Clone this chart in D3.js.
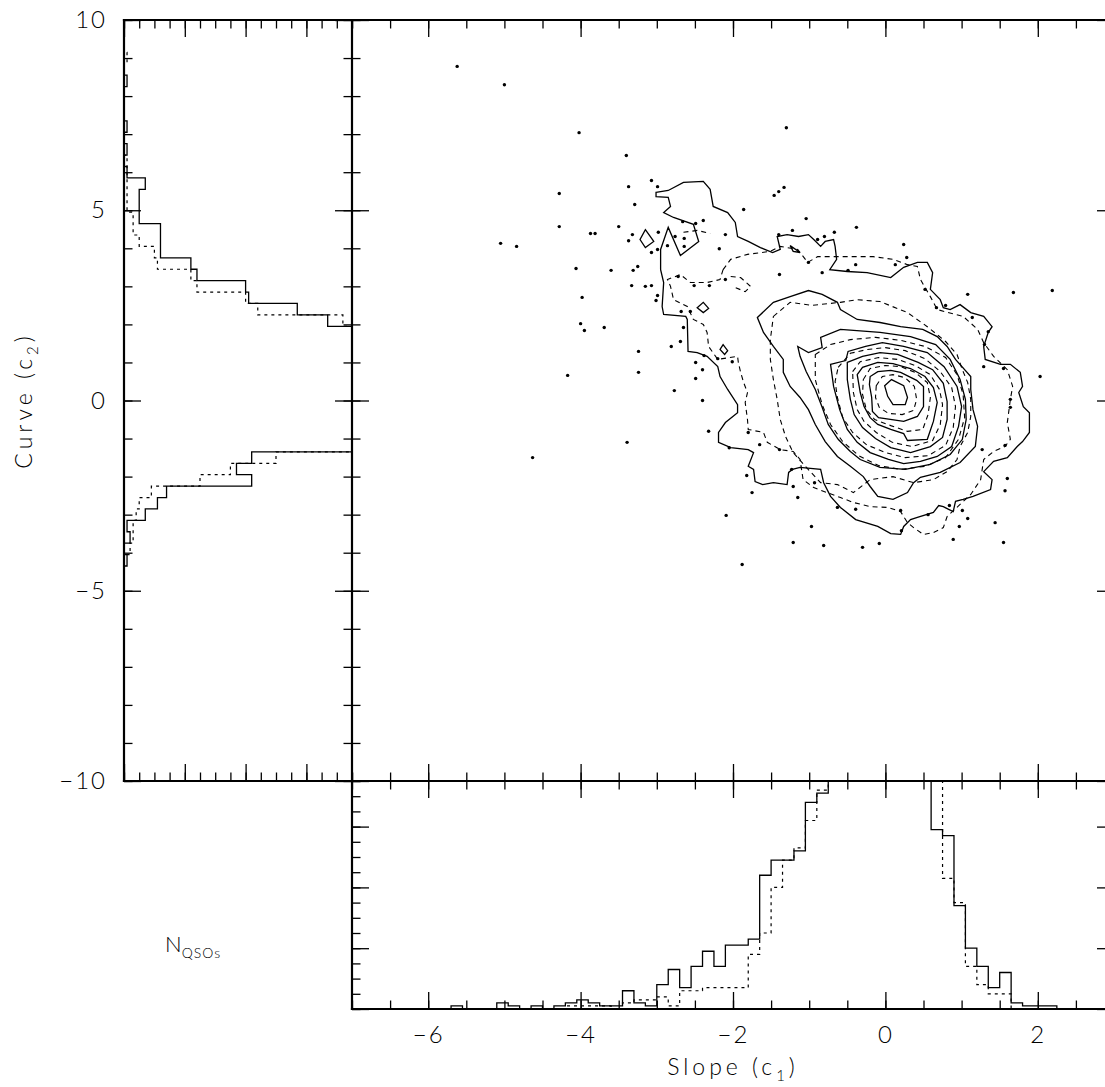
<!DOCTYPE html>

<head>
	<meta charset="utf-8" />
	<style>
		body {
			margin: 0;
			background-color: #fff;
		}

		svg {
			display: block;
		}

		text {
			font-family: Lato, 'DejaVu Sans', sans-serif;
			font-weight: 300;
			fill: #000;
		}
	</style>
</head>

<body>
	<div id="chart-area"></div>

	<script src="https://cdnjs.cloudflare.com/ajax/libs/d3/7.8.5/d3.min.js"></script>
	<script>
		// QSOs outside the lowest contour, [c1, c2]
		var qsoPoints = [
			[-5.62, 8.78], [-5.0, 8.3], [-4.02, 7.04], [-3.4, 6.44], [-1.3, 7.17], [-3.07, 5.78], [-2.99, 5.62],
			[-3.37, 5.62], [-3.29, 5.15], [-4.28, 5.44], [-4.28, 4.57], [-3.5, 4.57], [-3.87, 4.39], [-3.81, 4.39],
			[-5.05, 4.13], [-4.84, 4.05], [-3.32, 4.36], [-3.37, 4.2], [-2.98, 4.42], [-2.86, 4.07], [-2.99, 3.97],
			[-3.07, 3.89], [-2.76, 4.31], [-2.64, 4.26], [-2.64, 4.05], [-2.66, 4.7], [-2.49, 4.65], [-2.39, 4.73],
			[-4.06, 3.47], [-3.6, 3.42], [-3.31, 3.42], [-3.25, 3.52], [-3.33, 3.02], [-3.15, 3.0], [-3.07, 3.02],
			[-2.99, 2.76], [-3.01, 2.63], [-2.72, 3.26], [-2.51, 3.02], [-2.31, 3.02], [-3.98, 2.71], [-4.0, 2.02],
			[-3.95, 1.84], [-3.69, 1.92], [-2.68, 2.34], [-2.56, 2.34], [-2.65, 1.92], [-2.69, 1.55], [-2.81, 1.42],
			[-3.24, 1.29], [-3.24, 0.74], [-4.17, 0.66], [-2.38, 1.18], [-2.49, 1.0], [-2.4, 0.81], [-2.49, 0.58],
			[-2.2, 1.1], [-2.01, 1.02], [-2.77, 0.26], [-2.4, 0.0], [-2.32, -0.81], [-3.39, -1.1], [-4.63, -1.5],
			[-2.18, 3.99], [-1.86, 5.02], [-1.46, 5.39], [-1.4, 5.49], [-1.33, 5.6], [-1.04, 4.78], [-1.22, 4.47],
			[-1.4, 4.36], [-0.89, 4.23], [-0.8, 4.31], [-0.67, 4.42], [-2.1, 4.36], [-0.38, 4.55], [0.24, 4.1],
			[0.28, 3.76], [0.13, 3.57], [-0.39, 3.57], [-0.49, 3.42], [-0.83, 3.36], [-1.39, 3.31], [-1.01, 3.63],
			[0.52, 2.92], [1.08, 2.79], [1.68, 2.84], [2.19, 2.89], [0.79, 2.5], [0.67, 2.44], [1.14, 2.18],
			[1.35, 1.81], [1.3, 1.47], [1.29, 0.89], [1.55, 0.84], [2.03, 0.63], [1.64, 0.03], [1.64, -0.18],
			[1.27, -1.29], [1.57, -1.18], [1.6, -2.05], [1.57, -2.37], [1.44, -3.21], [1.55, -3.73], [0.89, -3.65],
			[0.97, -3.31], [1.08, -3.1], [1.01, -2.89], [0.84, -2.76], [0.56, -3.0], [0.2, -2.89], [0.21, -3.42],
			[-0.08, -3.76], [-0.3, -3.86], [-0.81, -3.81], [-0.39, -2.86], [-0.63, -2.81], [-1.8, -0.84],
			[-1.65, -1.16], [-1.39, -1.29], [-2.05, -1.24], [-1.82, -1.97], [-1.75, -2.42], [-2.09, -3.02],
			[-1.23, -1.81], [-1.21, -2.26], [-1.15, -2.55], [-0.93, -2.16], [-0.97, -3.31], [-1.21, -3.73],
			[-1.88, -4.31], [-2.1, 3.18]
		];

		// density contours of the first sample (solid), [c1, c2] vertices
		var solidContours = [
			[[-3.01, 5.47], [-2.85, 5.52], [-2.65, 5.73], [-2.39, 5.76], [-2.3, 5.55], [-2.26, 5.1], [-2.07, 4.94],
			[-1.97, 4.68], [-1.94, 4.31], [-1.8, 4.18], [-1.64, 4.02], [-1.48, 3.89], [-1.38, 3.97], [-1.42, 4.31],
			[-1.29, 4.36], [-1.14, 4.31], [-1.01, 4.36], [-0.94, 4.23], [-0.85, 4.05], [-0.79, 4.18], [-0.68, 4.23],
			[-0.66, 4.05], [-0.64, 3.71], [-0.73, 3.44], [-0.5, 3.39], [-0.24, 3.36], [0.07, 3.23], [0.24, 3.5],
			[0.42, 3.63], [0.55, 3.63], [0.62, 3.36], [0.59, 2.92], [0.72, 2.65], [0.76, 2.44], [0.85, 2.39],
			[0.98, 2.52], [1.12, 2.31], [1.29, 2.21], [1.4, 1.94], [1.35, 1.79], [1.29, 1.42], [1.31, 1.08],
			[1.51, 0.95], [1.64, 0.95], [1.77, 0.74], [1.8, 0.37], [1.75, 0.21], [1.81, -0.16], [1.89, -0.32],
			[1.89, -0.84], [1.8, -1.08], [1.73, -1.21], [1.6, -1.5], [1.42, -1.6], [1.29, -1.87], [1.4, -2.08],
			[1.38, -2.34], [1.15, -2.52], [1.02, -2.6], [0.92, -2.65], [0.89, -2.92], [0.83, -2.86], [0.76, -2.79],
			[0.7, -2.76], [0.63, -2.94], [0.42, -3.07], [0.33, -3.13], [0.24, -3.31], [0.2, -3.52], [0.07, -3.5],
			[-0.1, -3.31], [-0.39, -3.13], [-0.59, -2.81], [-0.72, -2.52], [-0.81, -2.16], [-0.85, -1.81],
			[-1.12, -1.76], [-1.22, -1.81], [-1.27, -1.89], [-1.29, -2.21], [-1.47, -2.16], [-1.61, -2.21],
			[-1.71, -2.13], [-1.73, -1.81], [-1.8, -1.73], [-1.73, -1.37], [-1.8, -1.29], [-2.03, -1.24],
			[-2.19, -1.1], [-2.19, -0.84], [-2.1, -0.58], [-1.94, -0.32], [-1.94, -0.11], [-2.07, 0.29],
			[-2.17, 0.63], [-2.2, 0.89], [-2.34, 1.16], [-2.47, 1.26], [-2.59, 1.29], [-2.6, 2.13], [-2.62, 2.21],
			[-2.91, 2.26], [-2.93, 2.47], [-2.91, 3.1], [-2.95, 3.44], [-2.95, 3.97], [-2.85, 4.55], [-2.69, 3.81],
			[-2.45, 4.18], [-2.52, 4.63], [-2.78, 4.81], [-2.91, 4.94], [-2.82, 5.1], [-2.85, 5.34], [-3.01, 5.36]],
			[[-1.68, 2.18], [-1.47, 2.58], [-1.25, 2.73], [-1.01, 2.89], [-0.83, 2.79], [-0.63, 2.58], [-0.59, 2.39],
			[-0.37, 2.13], [-0.07, 2.05], [0.2, 1.94], [0.49, 1.87], [0.68, 1.68], [0.81, 1.42], [0.92, 1.08],
			[1.12, 0.63], [1.12, 0.29], [1.15, -0.24], [1.21, -0.68], [1.18, -1.21], [0.98, -1.63], [0.72, -1.89],
			[0.46, -2.02], [0.37, -2.16], [0.29, -2.42], [0.1, -2.6], [-0.1, -2.52], [-0.2, -2.26], [-0.29, -2.0],
			[-0.46, -1.73], [-0.63, -1.47], [-0.79, -1.08], [-0.92, -0.63], [-1.01, -0.24], [-1.12, 0.08],
			[-1.25, 0.37], [-1.34, 0.74], [-1.34, 1.08], [-1.47, 1.42], [-1.6, 1.79]],
			[[-1.15, 1.42], [-1.01, 1.26], [-0.83, 1.39], [-0.85, 1.66], [-0.59, 1.87], [-0.07, 1.79], [0.33, 1.68],
			[0.66, 1.47], [0.85, 1.08], [0.98, 0.55], [1.05, 0.03], [1.06, -0.5], [1.01, -1.02], [0.85, -1.42],
			[0.59, -1.68], [0.26, -1.81], [-0.07, -1.76], [-0.33, -1.55], [-0.46, -1.34], [-0.62, -1.02],
			[-0.75, -0.63], [-0.83, -0.18], [-0.92, 0.29], [-1.04, 0.76], [-1.12, 1.16]],
			[[-0.72, 0.95], [-0.52, 1.05], [-0.49, 1.29], [-0.26, 1.42], [-0.04, 1.52], [0.24, 1.42], [0.55, 1.26],
			[0.77, 0.89], [0.94, 0.37], [1.0, -0.16], [0.96, -0.68], [0.87, -1.21], [0.68, -1.47], [0.46, -1.6],
			[0.24, -1.66], [0.04, -1.55], [-0.2, -1.37], [-0.37, -1.1], [-0.5, -0.76], [-0.6, -0.24], [-0.68, 0.37]],
			[[-0.5, 1.0], [-0.3, 1.16], [-0.07, 1.26], [0.16, 1.21], [0.43, 1.0], [0.62, 0.81], [0.76, 0.45],
			[0.81, -0.03], [0.81, -0.5], [0.75, -0.97], [0.59, -1.21], [0.33, -1.37], [0.07, -1.24], [-0.13, -1.0],
			[-0.3, -0.71], [-0.41, -0.37], [-0.46, 0.03], [-0.5, 0.55]],
			[[-0.37, 0.68], [-0.3, 0.87], [-0.1, 1.0], [0.1, 0.97], [0.33, 0.84], [0.52, 0.63], [0.63, 0.34],
			[0.68, -0.05], [0.63, -0.55], [0.55, -1.02], [0.29, -1.05], [0.24, -0.87], [0.07, -0.76], [-0.1, -0.63],
			[-0.2, -0.45], [-0.28, -0.16], [-0.33, 0.21]],
			[[-0.21, 0.42], [-0.2, 0.63], [-0.1, 0.76], [0.07, 0.79], [0.2, 0.74], [0.41, 0.53], [0.5, 0.37],
			[0.5, -0.16], [0.42, -0.42], [0.24, -0.55], [-0.09, -0.45], [-0.17, -0.29], [-0.18, 0.08]],
			[[-0.01, 0.39], [0.08, 0.55], [0.24, 0.39], [0.29, 0.08], [0.26, -0.11], [0.1, -0.11], [0.03, 0.11]],
			[[-3.15, 4.49], [-3.04, 4.18], [-3.15, 4.02], [-3.22, 4.23]],
			[[-2.47, 2.44], [-2.39, 2.58], [-2.32, 2.42], [-2.39, 2.31]],
			[[-2.13, 1.47], [-2.07, 1.31], [-2.11, 1.21], [-2.17, 1.34]],
			[[-1.25, 4.07], [-1.12, 3.89], [-1.21, 3.92]]
		];

		// density contours of the second sample (dashed)
		var dashedContours = [
			[[-2.13, 3.44], [-2.03, 3.71], [-1.81, 3.84], [-1.51, 3.92], [-1.38, 4.05], [-1.15, 3.97], [-1.02, 3.63],
			[-0.89, 3.78], [-0.5, 3.78], [-0.16, 3.78], [0.1, 3.71], [0.29, 3.57], [0.42, 3.52], [0.46, 3.18],
			[0.59, 2.73], [0.68, 2.39], [1.02, 2.21], [1.21, 1.87], [1.29, 1.52], [1.42, 1.16], [1.6, 0.81],
			[1.67, 0.37], [1.64, 0.03], [1.6, -0.58], [1.64, -1.02], [1.57, -1.21], [1.42, -1.34], [1.29, -1.55],
			[1.25, -2.08], [1.12, -2.47], [0.98, -2.73], [0.81, -3.05], [0.76, -3.34], [0.63, -3.47], [0.5, -3.52],
			[0.37, -3.34], [0.29, -3.21], [0.24, -3.05], [0.2, -2.92], [0.03, -2.81], [-0.2, -2.79], [-0.42, -2.68],
			[-0.59, -2.55], [-0.94, -2.29], [-1.08, -2.08], [-1.12, -1.55], [-1.21, -1.34], [-1.38, -1.29],
			[-1.55, -1.1], [-1.6, -0.84], [-1.8, -0.76], [-1.81, -0.5], [-1.84, -0.05], [-1.81, 0.21], [-1.86, 0.47],
			[-1.9, 0.74], [-1.93, 1.0], [-1.94, 1.16], [-2.2, 1.08], [-2.32, 1.42], [-2.34, 1.79], [-2.39, 2.0],
			[-2.52, 2.13], [-2.6, 2.47], [-2.78, 2.65], [-2.82, 3.0], [-2.86, 3.18], [-2.69, 3.31], [-2.56, 3.1],
			[-2.34, 3.1], [-2.17, 3.18]],
			[[-1.47, 2.21], [-1.25, 2.58], [-0.96, 2.5], [-0.59, 2.58], [-0.37, 2.65], [-0.07, 2.6], [0.29, 2.31],
			[0.55, 1.94], [0.79, 1.55], [0.94, 1.21], [1.01, 0.81], [1.08, 0.47], [1.12, 0.03], [1.12, -0.42],
			[1.08, -0.84], [0.98, -1.21], [0.94, -1.55], [0.81, -1.87], [0.63, -2.08], [0.37, -2.16], [0.1, -2.0],
			[-0.2, -2.08], [-0.42, -2.42], [-0.63, -2.21], [-0.85, -2.16], [-1.05, -1.73], [-1.21, -1.37],
			[-1.31, -0.95], [-1.38, -0.5], [-1.42, 0.03], [-1.47, 0.55], [-1.51, 1.08], [-1.51, 1.6]],
			[[-0.92, 1.21], [-0.72, 1.47], [-0.46, 1.6], [-0.13, 1.66], [0.2, 1.58], [0.52, 1.42], [0.79, 1.13],
			[0.94, 0.68], [1.02, 0.16], [1.04, -0.45], [0.96, -1.02], [0.79, -1.5], [0.52, -1.73], [0.2, -1.81],
			[-0.09, -1.71], [-0.35, -1.45], [-0.56, -1.08], [-0.72, -0.63], [-0.83, -0.11], [-0.92, 0.55]],
			[[-0.62, 0.87], [-0.46, 1.24], [-0.24, 1.34], [0.0, 1.39], [0.26, 1.31], [0.52, 1.1], [0.72, 0.76],
			[0.87, 0.34], [0.92, -0.16], [0.89, -0.71], [0.79, -1.18], [0.56, -1.45], [0.26, -1.5], [0.0, -1.37],
			[-0.25, -1.16], [-0.43, -0.84], [-0.56, -0.45], [-0.63, 0.08], [-0.66, 0.5]],
			[[-0.43, 0.76], [-0.33, 1.02], [-0.09, 1.13], [0.16, 1.08], [0.39, 0.92], [0.59, 0.68], [0.71, 0.29],
			[0.75, -0.11], [0.72, -0.63], [0.62, -1.05], [0.35, -1.21], [0.09, -1.1], [-0.12, -0.84], [-0.28, -0.55],
			[-0.37, -0.24], [-0.42, 0.21]],
			[[-0.29, 0.55], [-0.2, 0.84], [0.0, 0.92], [0.2, 0.89], [0.39, 0.74], [0.55, 0.47], [0.59, 0.08],
			[0.56, -0.37], [0.49, -0.76], [0.29, -0.81], [0.07, -0.66], [-0.14, -0.5], [-0.25, -0.24], [-0.3, 0.16]],
			[[-0.12, 0.39], [-0.04, 0.63], [0.1, 0.68], [0.26, 0.6], [0.38, 0.37], [0.41, 0.03], [0.37, -0.26],
			[0.22, -0.37], [0.04, -0.34], [-0.08, -0.18], [-0.13, 0.08]]
		];

		// dashed contour pieces that are cut off (not closed)
		var dashedPieces = [
			[[-2.03, 3.26], [-1.9, 3.23], [-1.77, 3.0], [-1.84, 2.86], [-1.97, 2.97]],
			[[-2.65, 4.42], [-2.47, 4.47], [-2.3, 4.39]]
		];

		// histogram of c2 (left panel): bin lower edges, width 0.3
		var c2BinWidth = 0.3;
		var c2BinLo = [
			-4.35, -4.05, -3.75, -3.45, -3.15, -2.85, -2.55, -2.25, -1.95, -1.65, -1.35, -1.05, -0.75, -0.45, -0.15,
			0.15, 0.45, 0.75, 1.05, 1.35, 1.65, 1.95, 2.25, 2.55, 2.85, 3.15, 3.45, 3.75, 4.05, 4.35, 4.65, 4.95,
			5.25, 5.55, 5.85, 6.15, 6.45, 6.75, 7.05, 7.35, 7.65, 7.95, 8.25, 8.55, 8.85
		];
		var c2Solid = [
			1, 0, 2, 1, 7, 11, 14, 42, 37, 42, 85, 115, 145, 168, 175, 172, 165, 150, 130, 108, 88, 67, 57, 41, 40,
			24, 22, 12, 12, 12, 5, 5, 5, 7, 1, 0, 1, 0, 1, 0, 0, 0, 1, 0, 0
		];
		var c2Dashed = [
			0, 2, 3, 3, 4, 5, 9, 25, 35, 50, 85, 120, 150, 170, 178, 172, 162, 145, 125, 102, 82, 72, 44, 40, 24,
			22, 11, 10, 5, 3, 3, 1, 1, 1, 1, 1, 0, 0, 0, 0, 0, 0, 0, 0, 1
		];

		// histogram of c1 (bottom panel): bin lower edges, width 0.15
		var c1BinWidth = 0.15;
		var c1BinLo = [
			-5.7, -5.55, -5.4, -5.25, -5.1, -4.95, -4.8, -4.65, -4.5, -4.35, -4.2, -4.05, -3.9, -3.75, -3.6, -3.45,
			-3.3, -3.15, -3.0, -2.85, -2.7, -2.55, -2.4, -2.25, -2.1, -1.95, -1.8, -1.65, -1.5, -1.35, -1.2, -1.05,
			-0.9, -0.75, -0.6, -0.45, -0.3, -0.15, 0.0, 0.15, 0.3, 0.45, 0.6, 0.75, 0.9, 1.05, 1.2, 1.35, 1.5, 1.65,
			1.8, 1.95, 2.1
		];
		var c1Solid = [
			1, 0, 0, 0, 2, 1, 0, 1, 0, 1, 2, 3, 2, 1, 1, 6, 2, 1, 8, 13, 7, 14, 19, 14, 21, 21, 23, 44, 49, 49, 52,
			68, 71, 85, 105, 125, 140, 150, 148, 135, 115, 90, 59, 57, 34, 20, 14, 7, 12, 2, 1, 1, 1
		];
		var c1Dashed = [
			0, 0, 0, 0, 0, 0, 0, 0, 0, 0, 1, 1, 1, 1, 0, 2, 3, 3, 4, 1, 6, 6, 7, 7, 7, 7, 18, 25, 40, 49, 53, 62,
			72, 88, 108, 128, 145, 152, 150, 138, 120, 96, 80, 43, 35, 14, 8, 5, 5, 0, 0, 0, 0
		];

		var width = 1105,
			height = 1087;

		var x = d3.scaleLinear().domain([-7, 3]).range([352, 1114]);
		var y = d3.scaleLinear().domain([-10, 10]).range([781, 20]);
		// N_QSOs, sideways in the left panel and upright in the bottom one
		var nx = d3.scaleLinear().domain([0, 75]).range([124, 352]);
		var ny = d3.scaleLinear().domain([0, 75]).range([1009, 781]);

		var svg = d3
			.select('#chart-area')
			.append('svg')
			.attr('width', width)
			.attr('height', height);

		var defs = svg.append('defs');
		defs.append('clipPath')
			.attr('id', 'clip-left')
			.append('rect')
			.attr('x', nx(0))
			.attr('y', y(10))
			.attr('width', nx(75) - nx(0))
			.attr('height', y(-10) - y(10));
		defs.append('clipPath')
			.attr('id', 'clip-bottom')
			.append('rect')
			.attr('x', x(-7))
			.attr('y', ny(75))
			.attr('width', x(3) - x(-7))
			.attr('height', ny(0) - ny(75));

		// step outline of a histogram: [value, count] pairs
		function steps(lo, counts, w) {
			var pts = [[lo[0], 0]];
			lo.forEach((v, i) => {
				pts.push([v, counts[i]], [v + w, counts[i]]);
			});
			pts.push([lo[lo.length - 1] + w, 0]);
			return pts;
		}

		var lineBottom = d3.line().x(d => x(d[0])).y(d => ny(d[1]));
		var lineLeft = d3.line().x(d => nx(d[1])).y(d => y(d[0]));

		var histLeft = svg.append('g').attr('clip-path', 'url(#clip-left)');
		histLeft.append('path')
			.attr('d', lineLeft(steps(c2BinLo, c2Dashed, c2BinWidth)))
			.attr('fill', 'none')
			.attr('stroke', '#000')
			.attr('stroke-width', 1.2)
			.attr('stroke-dasharray', '3,4');
		histLeft.append('path')
			.attr('d', lineLeft(steps(c2BinLo, c2Solid, c2BinWidth)))
			.attr('fill', 'none')
			.attr('stroke', '#000')
			.attr('stroke-width', 1.3);

		var histBottom = svg.append('g').attr('clip-path', 'url(#clip-bottom)');
		histBottom.append('path')
			.attr('d', lineBottom(steps(c1BinLo, c1Dashed, c1BinWidth)))
			.attr('fill', 'none')
			.attr('stroke', '#000')
			.attr('stroke-width', 1.2)
			.attr('stroke-dasharray', '3,4');
		histBottom.append('path')
			.attr('d', lineBottom(steps(c1BinLo, c1Solid, c1BinWidth)))
			.attr('fill', 'none')
			.attr('stroke', '#000')
			.attr('stroke-width', 1.3);

		// contours
		var ringLine = d3.line().x(d => x(d[0])).y(d => y(d[1])).curve(d3.curveLinearClosed);
		var pieceLine = d3.line().x(d => x(d[0])).y(d => y(d[1]));

		var main = svg.append('g');
		main.selectAll('.dash')
			.data(dashedContours)
			.join('path')
			.attr('class', 'dash')
			.attr('d', d => ringLine(d))
			.attr('fill', 'none')
			.attr('stroke', '#000')
			.attr('stroke-width', 1.1)
			.attr('stroke-dasharray', '5,4');
		main.selectAll('.piece')
			.data(dashedPieces)
			.join('path')
			.attr('class', 'piece')
			.attr('d', d => pieceLine(d))
			.attr('fill', 'none')
			.attr('stroke', '#000')
			.attr('stroke-width', 1.1)
			.attr('stroke-dasharray', '5,4');
		main.selectAll('.solid')
			.data(solidContours)
			.join('path')
			.attr('class', 'solid')
			.attr('d', d => ringLine(d))
			.attr('fill', 'none')
			.attr('stroke', '#000')
			.attr('stroke-width', 1.3);

		main.selectAll('circle')
			.data(qsoPoints)
			.join('circle')
			.attr('cx', d => x(d[0]))
			.attr('cy', d => y(d[1]))
			.attr('r', 1.7)
			.attr('fill', '#000');

		// ticks: minor and major, all pointing inwards
		function ticks(axis, tr, major, minor, size) {
			var g = svg.append('g').attr('transform', tr);
			g.append('g').call(axis().tickValues(minor).tickSize(-8.5).tickFormat(''));
			var m = g.append('g').call(axis().tickValues(major).tickSize(-17).tickPadding(17));
			if (size) m.attr('font-size', size).selectAll('text').attr('letter-spacing', 2);
			else m.selectAll('text').remove();
			g.selectAll('.domain').remove();
			g.selectAll('line').attr('stroke-width', 1.3);
		}

		var xMaj = x.ticks(5),
			xMin = x.ticks(20),
			yMaj = y.ticks(4),
			yMin = y.ticks(20),
			nMaj = nx.ticks(4),
			nMin = nx.ticks(15);

		// main panel
		ticks(() => d3.axisBottom(x), `translate(0,${y(-10)})`, xMaj, xMin);
		ticks(() => d3.axisTop(x), `translate(0,${y(10)})`, xMaj, xMin);
		ticks(() => d3.axisLeft(y), `translate(${x(-7)},0)`, yMaj, yMin);
		ticks(() => d3.axisRight(y), `translate(${x(3)},0)`, yMaj, yMin);
		// bottom panel
		ticks(() => d3.axisTop(x), `translate(0,${ny(75)})`, xMaj, xMin);
		ticks(() => d3.axisBottom(x), `translate(0,${ny(0)})`, xMaj, xMin, 24);
		ticks(() => d3.axisLeft(ny), `translate(${x(-7)},0)`, nMaj, nMin);
		ticks(() => d3.axisRight(ny), `translate(${x(3)},0)`, nMaj, nMin);
		// left panel
		ticks(() => d3.axisLeft(y), `translate(${nx(0)},0)`, yMaj, yMin, 24);
		ticks(() => d3.axisRight(y), `translate(${nx(75)},0)`, yMaj, yMin);
		ticks(() => d3.axisTop(nx), `translate(0,${y(10)})`, nMaj, nMin);
		ticks(() => d3.axisBottom(nx), `translate(0,${y(-10)})`, nMaj, nMin);

		// frames
		var frame = [
			[[nx(0), y(10)], [x(3), y(10)]],
			[[nx(0), y(10)], [nx(0), y(-10)]],
			[[nx(0), y(-10)], [x(3), y(-10)]],
			[[x(-7), y(10)], [x(-7), ny(0)]],
			[[x(-7), ny(0)], [x(3), ny(0)]],
			[[x(3), y(10)], [x(3), ny(0)]]
		];
		svg.append('g')
			.selectAll('path')
			.data(frame)
			.join('path')
			.attr('d', d => d3.line()(d))
			.attr('stroke', '#000')
			.attr('stroke-width', 2.2)
			.attr('stroke-linecap', 'square');

		// labels
		var yl = svg.append('text')
			.attr('transform', `translate(32,${y(0)}) rotate(-90)`)
			.attr('text-anchor', 'middle')
			.attr('letter-spacing', 4)
			.attr('font-size', 23);
		yl.append('tspan').text('Curve (c');
		yl.append('tspan').attr('dy', 6).attr('font-size', 15).text('2');
		yl.append('tspan').attr('dy', -6).text(')');

		var xl = svg.append('text')
			.attr('x', (x(-7) + x(3)) / 2)
			.attr('y', 1075)
			.attr('text-anchor', 'middle')
			.attr('letter-spacing', 4)
			.attr('font-size', 23);
		xl.append('tspan').text('Slope (c');
		xl.append('tspan').attr('dy', 6).attr('font-size', 15).text('1');
		xl.append('tspan').attr('dy', -6).text(')');

		var nl = svg.append('text')
			.attr('x', 165)
			.attr('y', 952)
			.attr('font-size', 22);
		nl.append('tspan').text('N');
		nl.append('tspan').attr('dy', 6).attr('font-size', 14).attr('letter-spacing', 1).text('QSOs');
	</script>
</body>
